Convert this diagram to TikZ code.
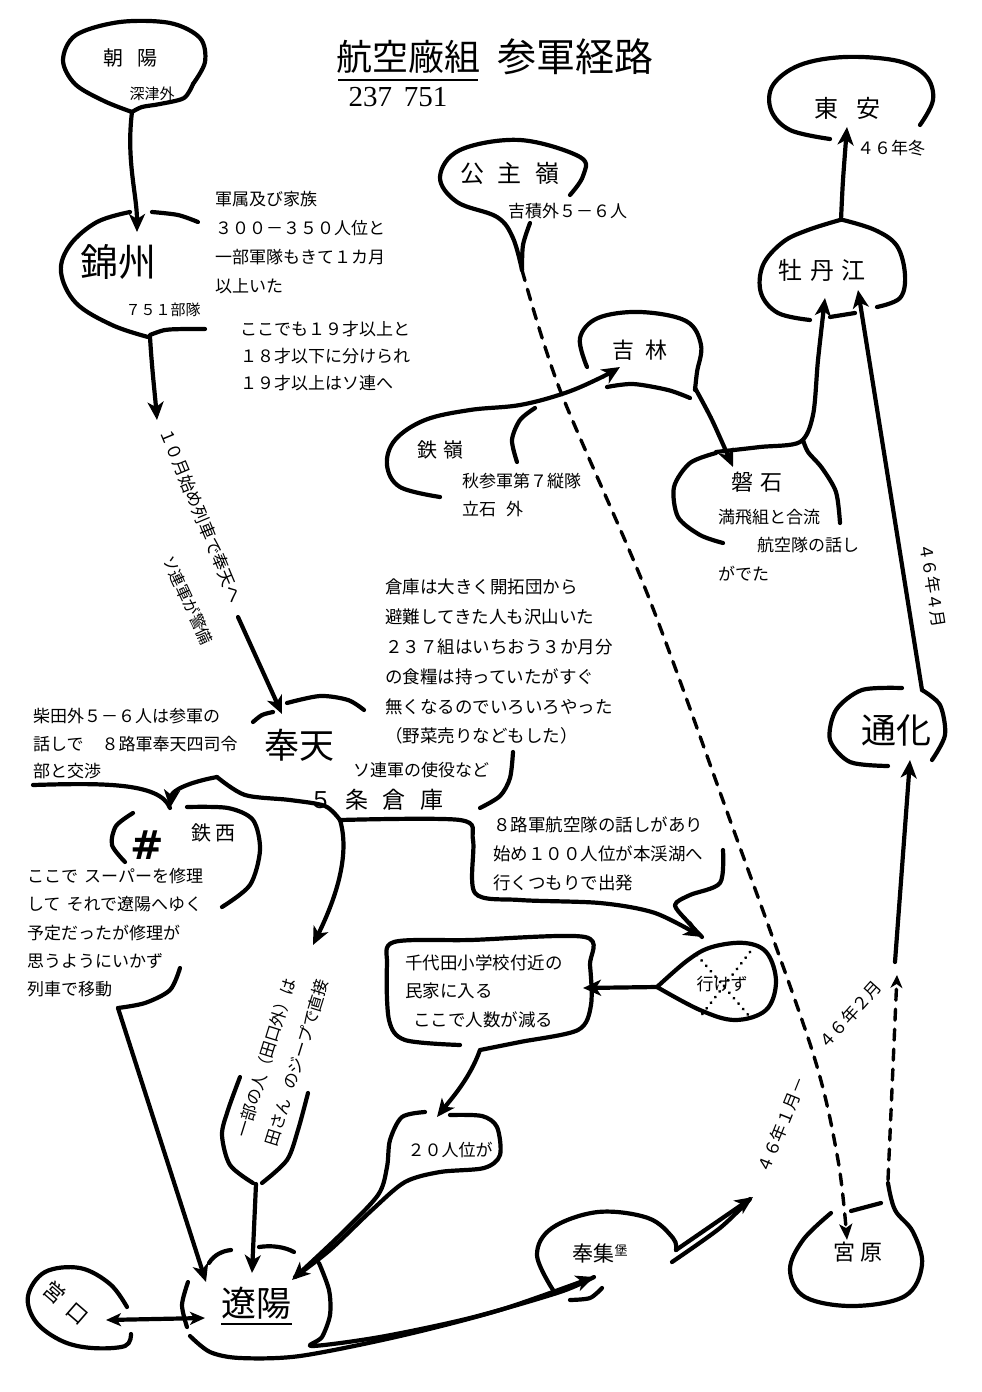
\documentclass[tikz,border=0pt]{standalone}
\usepackage{fontspec}
\setmainfont{Noto Sans CJK JP}
\newfontfamily\numfont{Liberation Serif}
\newfontfamily\djv{DejaVu Sans}
\usetikzlibrary{arrows.meta}
\tikzset{
  ln/.style={line width=4.2pt, line cap=round, line join=round},
  arr/.style={ln, -{Stealth[length=18pt,width=16pt,inset=5pt]}},
  darr/.style={ln, {Stealth[length=15pt,width=13pt,inset=4pt]}-{Stealth[length=15pt,width=13pt,inset=4pt]}},
  dsh/.style={line width=3.4pt, line cap=round, dash pattern=on 11pt off 9pt},
  dots/.style={line width=3.2pt, line cap=round, dash pattern=on 0.1pt off 7pt},
  txt/.style={inner sep=0pt, align=left, font=\fontsize{17}{29}\selectfont},
  lab/.style={inner sep=0pt, font=\fontsize{17}{17}\selectfont},
  place/.style={inner sep=0pt, font=\fontsize{22}{22}\selectfont},
  city/.style={inner sep=0pt, font=\fontsize{35}{35}\selectfont},
}
\begin{document}
\begin{tikzpicture}[x=1pt,y=-1pt]
\useasboundingbox (0,0) rectangle (982,1392);
\fill[white] (0,0) rectangle (982,1392);

% ---------- title
\node[inner sep=0pt, font=\fontsize{36}{36}\selectfont] (title1) at (408,57) {航空廠組};
\node[inner sep=0pt, font=\fontsize{39}{39}\selectfont] (title2) at (575,57) {参軍経路};
\draw[line width=1.2pt] (338,80) -- (478,80);
\node[inner sep=0pt, font=\numfont\fontsize{29}{29}\selectfont] (title3) at (398,97) {237\hspace{12pt}751};

% ---------- 朝陽
\node[inner sep=0pt, font=\fontsize{20}{20}\selectfont] (chaoyang) at (130,58) {朝\hspace{14pt}陽};
\node[inner sep=0pt, font=\fontsize{15}{15}\selectfont] (shinzu) at (152,94) {深津外};
\draw[ln] plot[smooth, tension=0.55] coordinates {(132,112) (104,101) (75,84) (63,60) (76,35) (120,22) (170,23) (200,38) (205,62) (193,84)};
\draw[ln] plot[smooth] coordinates {(193,84) (184,98) (160,104) (142,107) (132,112)};
\coordinate (cyTail) at (132,112);
\coordinate (jzTop) at (137,232);
\draw[arr] (cyTail) .. controls (126,160) and (137,195) .. (jzTop);

% ---------- 錦州
\node[inner sep=0pt, font=\fontsize{38}{38}\selectfont] (jinzhou) at (118,262) {錦州};
\node[inner sep=0pt, font=\fontsize{15}{15}\selectfont] (b751) at (163,310) {７５１部隊};
\draw[ln] plot[smooth, tension=0.6] coordinates {(130,212) (97,222) (70,245) (61,272) (76,303) (112,325) (148,337)};
\draw[ln] plot[smooth] coordinates {(152,212) (178,215) (198,222)};
\draw[ln] plot[smooth] coordinates {(150,335) (165,330) (185,329) (205,329)};
\coordinate (jzTail) at (150,337);
\coordinate (octTop) at (157,420);
\draw[arr] (jzTail) .. controls (152,370) and (155,395) .. (octTop);

\node[txt, anchor=north west] (gunzoku) at (215,191) {軍属及び家族\\３００－３５０人位と\\一部軍隊もきて１カ月\\以上いた};
\node[txt, anchor=north west, font=\fontsize{17}{27}\selectfont] (kokodemo) at (240,321) {ここでも１９才以上と\\１８才以下に分けられ\\１９才以上はソ連へ};

\node[lab, rotate=-67.4] (oct) at (201,515) {１０月始め列車で奉天へ};
\node[inner sep=0pt, font=\fontsize{16}{16}\selectfont, rotate=-65] (soren) at (188,600) {ソ連軍が警備};
\coordinate (htIn0) at (238,617);
\coordinate (htTop) at (282,714);
\draw[arr] (htIn0) -- (htTop);

% ---------- 奉天
\node[city] (hoten) at (299,745) {奉天};
\draw[ln] plot[smooth] coordinates {(287,703) (320,696) (348,700) (364,710)};
\draw[ln] plot[smooth] coordinates {(253,722) (262,715) (273,712)};
\coordinate (htCusp) at (217,777);
\coordinate (tsTop) at (170,808);
\draw[arr] (htCusp) .. controls (190,782) and (172,790) .. (tsTop);
\coordinate (koshoEnd) at (33,785);
\draw[ln] (koshoEnd) .. controls (100,783) and (160,782) .. (tsTop);
\draw[ln] plot[smooth] coordinates {(217,777) (245,795) (290,800) (325,806) (340,820)};
\coordinate (gjCorner) at (340,820);
\coordinate (ichibuTop) at (313,945);
\draw[arr] (gjCorner) .. controls (352,860) and (330,910) .. (ichibuTop);
\draw[arr] plot[smooth, tension=0.5] coordinates {(340,820) (460,820) (473,840) (475,893) (520,900) (600,903) (655,913) (702,937)};

\node[txt, anchor=north west, font=\fontsize{17}{27.5}\selectfont] (shibata) at (33,708) {柴田外５－６人は参軍の\\話しで\hspace{18pt}８路軍奉天四司令\\部と交渉};
\node[txt, anchor=north west, font=\fontsize{17.5}{29.8}\selectfont] (soko) at (385,579) {倉庫は大きく開拓団から\\避難してきた人も沢山いた\\２３７組はいちおう３か月分\\の食糧は持っていたがすぐ\\無くなるのでいろいろやった\\（野菜売りなどもした）};
\node[lab, anchor=west] (shieki) at (353,770) {ソ連軍の使役など};
\draw[ln] plot[smooth] coordinates {(513,752) (510,778) (500,796) (480,808)};
\node[inner sep=0pt, font=\fontsize{23}{23}\selectfont] (gojo) at (376,800) {５\hspace{14pt}条\hspace{14pt}倉\hspace{14pt}庫};

% ---------- 鉄西
\node[inner sep=0pt, font=\djv\bfseries\fontsize{40}{40}\selectfont] (sharp) at (147,845) {\#};
\node[inner sep=0pt, font=\fontsize{20}{20}\selectfont] (tetsusei) at (213,833) {鉄\hspace{4pt}西};
\draw[ln] plot[smooth] coordinates {(125,862) (112,845) (116,826) (133,813)};
\draw[ln] plot[smooth] coordinates {(187,807) (228,808) (253,820) (260,850) (250,885) (222,907)};
\node[txt, anchor=north west, font=\fontsize{17}{28.3}\selectfont] (tsText) at (27,868) {ここで\hspace{6pt}スーパーを修理\\して\hspace{6pt}それで遼陽へゆく\\予定だったが修理が\\思うようにいかず\\列車で移動};
\draw[ln] plot[smooth] coordinates {(180,968) (170,990) (145,1003) (118,1008)};
\coordinate (tsTail) at (118,1008);
\coordinate (ryIn1) at (206,1282);
\draw[arr] (tsTail) -- (ryIn1);

% ---------- 8路軍 / 行けず
\node[txt, anchor=north west, font=\fontsize{17.5}{29}\selectfont] (hachiro) at (493,816) {８路軍航空隊の話しがあり\\始め１００人位が本渓湖へ\\行くつもりで出発};
\draw[ln] plot[smooth] coordinates {(723,850) (720,883) (690,895) (675,905) (688,922) (702,937)};
\node[lab] (ikezu) at (722,984) {行けず};
\draw[ln] plot[smooth, tension=0.6] coordinates {(657,987) (688,960) (712,947) (745,943) (767,953) (776,982) (766,1010) (735,1020) (700,1010) (657,987)};
\draw[dots] (697,955) -- (750,1017);
\draw[dots] (750,952) -- (700,1017);
\coordinate (ikTip) at (657,987);
\coordinate (cdRight) at (583,988);
\draw[arr] (ikTip) -- (cdRight);

% ---------- 千代田
\node[txt, anchor=north west, font=\fontsize{17.5}{28.5}\selectfont] (chiyoda) at (405,954) {千代田小学校付近の\\民家に入る\\\hspace{8pt}ここで人数が減る};
\draw[ln] plot[smooth, tension=0.5] coordinates {(460,1045) (405,1040) (389,1020) (387,965) (394,942) (470,940) (585,937) (590,965) (591,1005) (578,1030) (520,1042) (480,1050)};
\coordinate (cdTail) at (480,1050);
\coordinate (njTop) at (437,1117);
\draw[arr] (cdTail) .. controls (470,1078) and (452,1098) .. (njTop);

% ---------- 20人位が
\node[lab] (nijunin) at (450,1150) {２０人位が};
\draw[arr] plot[smooth] coordinates {(425,1112) (402,1117) (390,1140) (387,1167) (378,1195) (340,1235) (292,1280)};
\draw[ln] plot[smooth] coordinates {(450,1115) (482,1116) (497,1127) (500,1155) (484,1168) (440,1172) (405,1182) (372,1210) (330,1250) (295,1277)};

% ---------- 一部の人
\node[inner sep=0pt, align=left, font=\fontsize{16.5}{31}\selectfont, rotate=72.6] (ichibu) at (282,1058) {一部の人（田口外）は\\田さん\hspace{10pt}のジープで直接};
\draw[ln] plot[smooth] coordinates {(240,1077) (228,1110) (222,1135) (230,1165) (253,1183)};
\draw[ln] plot[smooth] coordinates {(308,1093) (298,1130) (287,1160) (262,1183)};
\coordinate (ibTail) at (256,1184);
\coordinate (ryIn2) at (252,1273);
\draw[arr] (ibTail) -- (ryIn2);

% ---------- 遼陽
\node[city] (ryoyo) at (256,1303) {遼陽};
\draw[line width=1.5pt] (221,1324) -- (292,1324);
\draw[ln] (209,1263) .. controls (214,1255) and (222,1251) .. (231,1250);
\draw[ln] (259,1247) .. controls (272,1245) and (285,1247) .. (294,1252);
\draw[ln] plot[smooth] coordinates {(188,1282) (182,1305) (187,1327)};
\draw[ln] plot[smooth] coordinates {(319,1263) (329,1290) (330,1315) (322,1337) (312,1346) (380,1337) (470,1318) (560,1292) (594,1277)};
\coordinate (hsIn) at (594,1277);
\draw[arr] plot[smooth] coordinates {(190,1336) (210,1352) (240,1358) (300,1356) (400,1336) (500,1310) (594,1277)};

% ---------- 営口
\node[inner sep=0pt, font=\fontsize{21}{21}\selectfont, rotate=-41] (eiko) at (66,1303) {営\hspace{10pt}口};
\draw[ln] plot[smooth, tension=0.6] coordinates {(127,1307) (110,1284) (80,1268) (45,1272) (28,1296) (36,1322) (62,1341) (92,1348) (125,1346) (131,1334)};
\coordinate (ekIn) at (106,1320);
\coordinate (ryLeft) at (205,1318);
\draw[darr] (ekIn) -- (ryLeft);

% ---------- 奉集堡
\node[inner sep=0pt, font=\fontsize{21}{21}\selectfont] (hoshuho) at (600,1253) {奉集\raisebox{6pt}{\fontsize{13}{13}\selectfont 堡}};
\draw[ln] plot[smooth, tension=0.6] coordinates {(553,1290) (537,1255) (552,1228) (598,1212) (648,1218) (673,1238) (676,1250)};
\coordinate (hsTail) at (676,1250);
\coordinate (janArr) at (753,1197);
\draw[arr] (hsTail) -- (janArr);
\draw[ln] plot[smooth] coordinates {(672,1262) (720,1228) (750,1199)};
\draw[ln] plot[smooth] coordinates {(570,1300) (590,1298) (602,1288)};
\node[lab, rotate=68] (jan46) at (782,1125) {４６年１月－};
\node[lab, rotate=48] (feb46) at (850,1015) {４６年２月};

% ---------- 宮原
\node[inner sep=0pt, font=\fontsize{22}{22}\selectfont] (miyahara) at (858,1252) {宮\hspace{6pt}原};
\draw[ln] plot[smooth, tension=0.6] coordinates {(831,1213) (803,1240) (790,1270) (805,1297) (853,1306) (905,1296) (922,1265) (913,1232) (895,1210) (888,1183)};
\draw[ln] (851,1211) -- (881,1203);
\coordinate (ksTail) at (522,270);
\coordinate (myIn) at (847,1240);
\draw[dsh, -{Stealth[length=16pt,width=13pt,inset=4pt]}] plot[smooth] coordinates {(522,270) (560,390) (647,593) (730,820) (812,1050) (838,1160) (847,1240)};
\coordinate (myTop) at (888,1180);
\coordinate (tkLow) at (897,975);
\draw[dsh, -{Stealth[length=13pt,width=12pt,inset=4pt]}] (myTop) -- (tkLow);

% ---------- 通化
\node[inner sep=0pt, font=\fontsize{35}{35}\selectfont] (tsuka) at (896,730) {通化};
\draw[ln] plot[smooth] coordinates {(902,688) (862,690) (836,710) (830,740) (850,762) (888,766)};
\draw[ln] plot[smooth] coordinates {(922,690) (940,705) (945,735) (932,760)};
\coordinate (tkBottom) at (910,760);
\draw[arr] (895,962) -- (tkBottom);
\coordinate (tkTop) at (922,690);
\coordinate (btIn2) at (858,290);
\draw[arr] (tkTop) -- (btIn2);
\node[lab, rotate=-81] (apr46) at (933,585) {４６年４月};

% ---------- 磐石
\node[place] (bansei) at (757,482) {磐\hspace{8pt}石};
\node[txt, anchor=north west, font=\fontsize{17}{28.5}\selectfont] (bsText) at (718,509) {満飛組と合流\\\hspace{39pt}航空隊の話し\\がでた};
\draw[ln] plot[smooth] coordinates {(716,453) (690,463) (674,487) (678,517) (700,535) (723,543)};
\draw[arr] plot[smooth] coordinates {(716,452) (760,447) (800,442) (813,415) (818,360) (825,298)};
\draw[ln] plot[smooth] coordinates {(840,523) (836,492) (822,468) (808,452) (803,440)};

% ---------- 吉林
\node[place] (kirin) at (640,350) {吉\hspace{12pt}林};
\draw[ln] plot[smooth, tension=0.6] coordinates {(587,367) (580,338) (598,318) (640,312) (686,321) (701,345) (697,372) (695,390)};
\draw[arr] plot[smooth] coordinates {(695,388) (712,420) (733,467)};
\draw[ln] plot[smooth] coordinates {(607,387) (633,384) (668,390) (690,398)};

% ---------- 鉄嶺
\node[inner sep=0pt, font=\fontsize{20}{20}\selectfont] (tetsurei) at (440,450) {鉄\hspace{6pt}嶺};
\node[txt, anchor=north west, font=\fontsize{17}{28}\selectfont] (trText) at (462,473) {秋参軍第７縦隊\\立石\hspace{10pt}外};
\draw[arr] plot[smooth, tension=0.6] coordinates {(440,497) (400,487) (387,465) (395,440) (425,420) (470,410) (520,405) (565,393) (600,378) (620,367)};
\draw[ln] plot[smooth] coordinates {(517,462) (512,440) (520,420) (535,408)};

% ---------- 牡丹江
\node[inner sep=0pt, font=\fontsize{24}{24}\selectfont] (botanko) at (822,270) {牡\hspace{8pt}丹\hspace{8pt}江};
\draw[ln] plot[smooth, tension=0.6] coordinates {(840,220) (808,230) (783,242) (763,265) (761,293) (778,313) (810,320)};
\draw[ln] plot[smooth, tension=0.6] coordinates {(843,220) (875,230) (897,246) (905,275) (900,298) (877,307)};
\draw[ln] (830,317) -- (855,313);
\draw[arr] plot[smooth] coordinates {(841,220) (843,180) (847,127)};

% ---------- 東安
\node[inner sep=0pt, font=\fontsize{24}{24}\selectfont] (toan) at (847,108) {東\hspace{18pt}安};
\draw[ln] plot[smooth, tension=0.6] coordinates {(830,139) (790,130) (771,110) (773,85) (800,65) (845,57) (898,61) (926,76) (933,100) (920,125)};
\node[lab, anchor=west] (win46) at (857,148) {４６年冬};

% ---------- 公主嶺
\node[inner sep=0pt, font=\fontsize{24}{24}\selectfont] (koshurei) at (510,173) {公\hspace{14pt}主\hspace{14pt}嶺};
\node[lab, anchor=west] (kisseki) at (508,211) {吉積外５－６人};
\draw[ln] plot[smooth, tension=0.6] coordinates {(570,195) (583,176) (580,157) (520,140) (460,150) (440,177) (457,202) (497,217) (513,238) (522,270)};
\draw[ln] plot[smooth] coordinates {(530,223) (523,245) (522,270)};
\end{tikzpicture}
\end{document}
